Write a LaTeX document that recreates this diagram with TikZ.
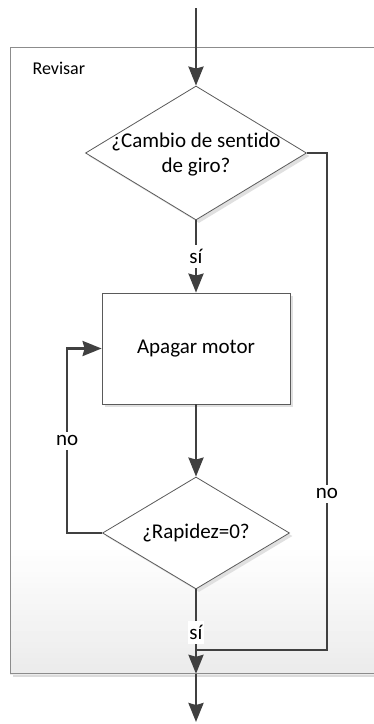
\documentclass[tikz,border=0pt]{standalone}
\usepackage{fontspec}
\setmainfont{Carlito}[Ligatures=NoCommon]
\usetikzlibrary{arrows.meta,shapes.geometric,shadows}

\definecolor{linegray}{HTML}{404040}
\definecolor{edgegray}{HTML}{5A5A5A}
\definecolor{framegray}{HTML}{8C8C8C}

\begin{document}
\begin{tikzpicture}[x=1pt, y=-1pt,
  >={Stealth[length=19pt, width=15pt, inset=2pt]},
  flow/.style={draw=linegray, line width=2.6pt, ->},
  link/.style={draw=linegray, line width=2.6pt},
  txt/.style={font=\fontsize{21}{25}\selectfont, align=center},
  branch/.style={txt, fill=white, inner xsep=1.5pt, inner ysep=4pt},
  process/.style={txt, rectangle, draw=edgegray, line width=0.8pt, fill=white,
    minimum width=188pt, minimum height=111pt,
    drop shadow={shadow xshift=3pt, shadow yshift=-3pt, fill=black!12, opacity=1}},
  decision/.style={diamond, draw=edgegray, line width=0.8pt, fill=white, inner sep=0pt,
    drop shadow={shadow xshift=3pt, shadow yshift=-3pt, fill=black!12, opacity=1}},
  frame/.style={rectangle, draw=framegray, line width=0.8pt, fill=white,
    drop shadow={shadow xshift=3pt, shadow yshift=-4pt, fill=black!14, opacity=1}}]

  % Page size
  \useasboundingbox (0,0) rectangle (374,724);
  \clip (0,0) rectangle (374,724);

  % === Group frame ===
  \node[frame, anchor=north west, minimum width=380pt, minimum height=626pt] (revisar) at (10,47) {};
  % light gradient at the bottom of the frame, in bands
  \foreach \i [evaluate=\i as \g using \i*0.33] in {0,...,23} {
    \fill[black!\g] (10,{545+\i*5.4}) rectangle (390,{545+(\i+1)*5.4+0.3});
  }
  \draw[framegray, line width=0.8pt] (revisar.north west) rectangle (revisar.south east);
  \node[font=\fontsize{18}{22}\selectfont, anchor=west] (revisarLbl) at (29,68) {Revisar};

  % === Steps ===
  \node[decision, minimum width=221pt, minimum height=134pt] (giro) at (196,153) {};
  \node[txt] (giroTxt) at (196,155) {¿Cambio de sentido\\de giro?};

  \node[process] (apagar) at (196,348.5) {Apagar motor};

  \node[decision, minimum width=187pt, minimum height=112pt] (rapidez) at (196,533) {};
  \node[txt] (rapidezTxt) at (rapidez) {¿Rapidez=0?};

  % Free ends
  \coordinate (inicio) at (196,8);
  \coordinate (union) at (196,650);
  \coordinate (fin) at (196,722);

  % === Connectors ===
  \draw[flow] (inicio) -- (giro.north);
  \draw[flow] (giro.south) -- node[branch] {sí} (apagar.north);
  \draw[flow] (apagar.south) -- (rapidez.north);
  \draw[flow] (rapidez.west) -- ++(-35,0) |- node[branch, pos=0.25] {no} (apagar.west);
  \draw[link] (giro.east) -- ++(20,0) coordinate (derecha)
    -- node[branch, pos=0.686] {no} (derecha |- union) -- (union);
  \draw[flow] (rapidez.south) -- node[branch, pos=0.51] {sí} (rapidez.south |- revisar.south);
  \draw[flow] (revisar.south -| rapidez.south) -- (fin);

\end{tikzpicture}
\end{document}
